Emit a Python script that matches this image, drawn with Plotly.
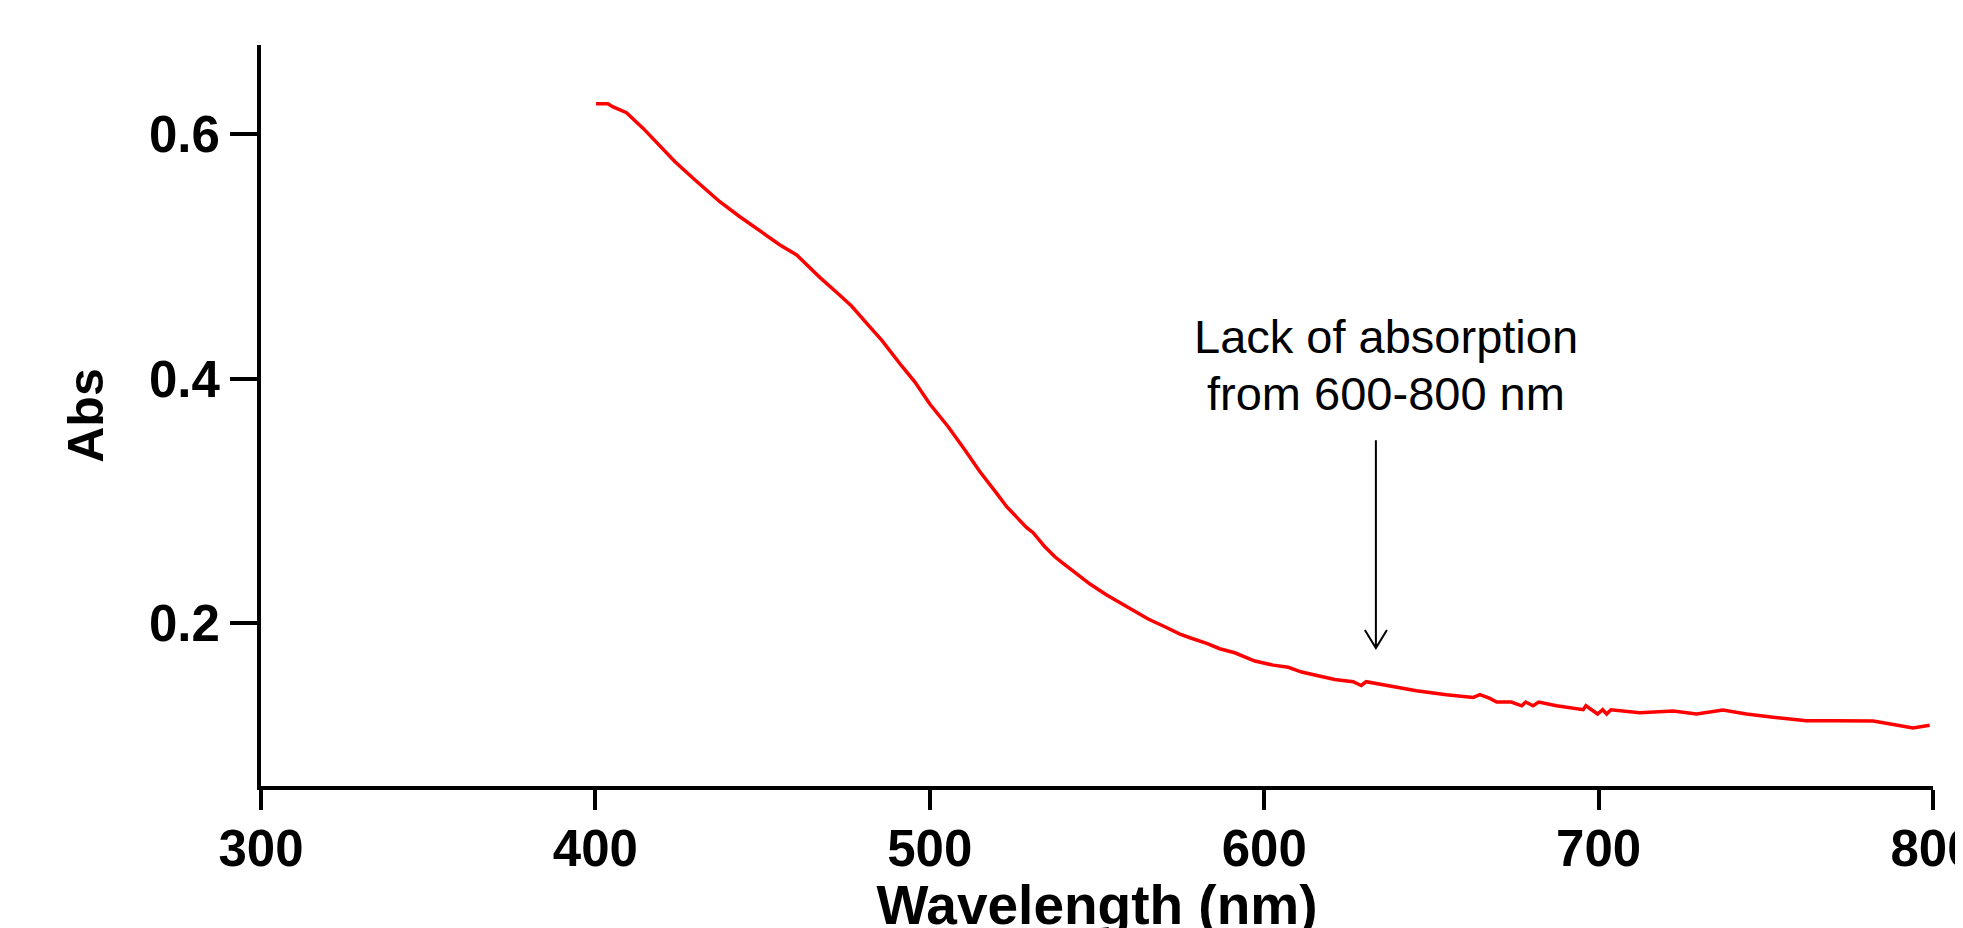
import plotly.graph_objects as go

# Absorbance spectrum
wavelength = [400.2, 403.7, 405.3, 409.3, 414.3, 419.8, 423.8, 429.8, 437.2, 443.2,
              448.2, 455.2, 460.2, 467.1, 472.1, 476.6, 481.6, 485.6, 491.6, 495.5,
              500.0, 505.5, 510.5, 515.0, 520.0, 523.0, 528.9, 530.9, 534.4, 537.4,
              539.4, 543.9, 547.9, 552.9, 557.3, 561.3, 565.3, 570.3, 574.8, 577.8,
              582.8, 586.7, 591.2, 597.2, 602.7, 607.2, 611.2, 616.1, 621.1, 626.6,
              629.0, 630.5, 632.1, 638.1, 645.5, 654.5, 662.5, 664.5, 667.5, 669.5,
              673.9, 677.0, 678.2, 680.4, 682.1, 687.4, 695.4, 696.2, 699.7, 701.2,
              702.4, 703.7, 712.3, 722.3, 729.3, 737.2, 744.2, 752.2, 762.1, 770.1,
              777.1, 782.1, 789.0, 794.0, 799.0]
absorbance = [0.625, 0.625, 0.6223, 0.6176, 0.6048, 0.5885, 0.5775, 0.5625, 0.5448, 0.5325,
              0.5230, 0.5094, 0.5012, 0.4829, 0.4707, 0.4595, 0.4439, 0.4316, 0.4104, 0.3975,
              0.3793, 0.3607, 0.3416, 0.3239, 0.3062, 0.2953, 0.2784, 0.2740, 0.2625, 0.2543,
              0.2500, 0.2408, 0.2320, 0.2230, 0.2162, 0.2094, 0.2034, 0.1971, 0.1911, 0.1881,
              0.1835, 0.1791, 0.1758, 0.1690, 0.1657, 0.1639, 0.1600, 0.1570, 0.1540, 0.1521,
              0.1490, 0.1521, 0.1513, 0.1480, 0.1447, 0.1415, 0.1393, 0.1415, 0.1385, 0.1355,
              0.1355, 0.1324, 0.1355, 0.1324, 0.1355, 0.1324, 0.1292, 0.1324, 0.1257, 0.1292,
              0.1257, 0.1292, 0.1267, 0.1281, 0.1257, 0.1289, 0.1257, 0.1230, 0.1202, 0.1202,
              0.1202, 0.1200, 0.1167, 0.1143, 0.1165]

x_ticks = [300, 400, 500, 600, 700, 800]
y_ticks = [0.2, 0.4, 0.6]
y_tick_text = ["0.2", "0.4", "0.6"]

note_lines = ["Lack of absorption", "from 600-800 nm"]
note_x = 636.4
note_y = [0.4347, 0.3879]
arrow_x = 633.4
arrow_top = 0.3497
arrow_tip = 0.1797

FONT = "Liberation Sans, Arial, sans-serif"

fig = go.Figure()
fig.add_trace(go.Scatter(
    x=wavelength, y=absorbance, mode="lines",
    line=dict(color="#ff0000", width=3.5),
    showlegend=False, hoverinfo="skip"))

tick_font = dict(family=FONT, size=51, color="black", weight="bold")

fig.update_layout(
    template="none",
    width=1963, height=928,
    paper_bgcolor="white", plot_bgcolor="white",
    margin=dict(l=253, r=38, t=37, b=150, pad=0),
    xaxis=dict(range=[300, 800], tickvals=x_ticks, ticks="outside", ticklen=20, tickwidth=4,
               tickcolor="black", showline=True, linecolor="black", linewidth=4,
               showgrid=False, zeroline=False, tickfont=tick_font, automargin=False,
               ticklabeloverflow="allow", ticklabelstandoff=-5,
               title=dict(text="Wavelength (nm)", standoff=59,
                          font=dict(family=FONT, size=55, color="black", weight="bold"))),
    yaxis=dict(range=[0.0668, 0.673], tickvals=y_ticks, ticktext=y_tick_text, ticks="outside",
               ticklen=27, tickwidth=4, tickcolor="black", showline=True, linecolor="black",
               linewidth=4, showgrid=False, zeroline=False, tickfont=tick_font, automargin=False,
               ticklabeloverflow="allow",
               title=dict(text="Abs", standoff=30,
                          font=dict(family=FONT, size=50, color="black", weight="bold"))),
)

for line_text, ly in zip(note_lines, note_y):
    fig.add_annotation(x=note_x, y=ly, xref="x", yref="y", text=line_text, showarrow=False,
                       font=dict(family=FONT, size=47, color="black"),
                       xanchor="center", yanchor="middle", align="center")

fig.add_shape(type="path", xref="x", yref="y",
              path=f"M {arrow_x},{arrow_top} L {arrow_x},{arrow_tip} "
                   f"M {arrow_x - 3.3},{arrow_tip + 0.0148} L {arrow_x},{arrow_tip} "
                   f"L {arrow_x + 3.3},{arrow_tip + 0.0148}",
              line=dict(color="black", width=2))

fig.write_html("out.html")
